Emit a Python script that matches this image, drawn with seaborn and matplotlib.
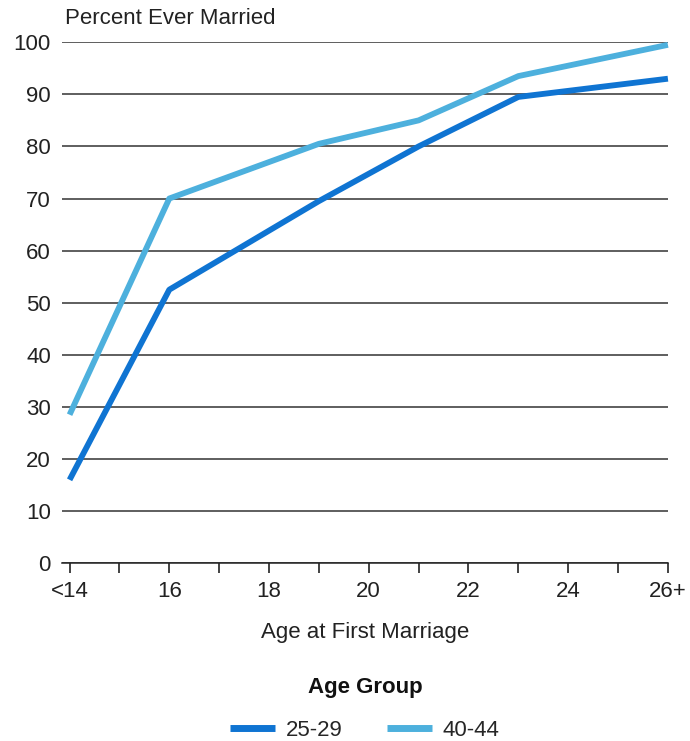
import matplotlib
matplotlib.use("Agg")
import matplotlib.pyplot as plt
import seaborn as sns
import pandas as pd

# values
ages = [14, 16, 19, 21, 23, 26]
tick_ages = [14, 16, 18, 20, 22, 24, 26]
tick_labels = ["<14", "16", "18", "20", "22", "24", "26+"]
pct_25_29 = [16, 52.5, 69.5, 80, 89.5, 93]
pct_40_44 = [28.5, 70, 80.5, 85, 93.5, 99.5]
groups = ["25-29", "40-44"]
colors = ["#0f74d2", "#4db0dd"]

df = pd.DataFrame({
    "age": ages * 2,
    "pct": pct_25_29 + pct_40_44,
    "group": [groups[0]] * len(ages) + [groups[1]] * len(ages),
})

sns.set_style("white")
plt.rcParams["font.family"] = ["Liberation Sans", "DejaVu Sans"]
fs = 16

fig = plt.figure(figsize=(6.9, 7.41), dpi=100)
ax = fig.add_axes([0.09, 0.24, 0.878, 0.703])

sns.lineplot(data=df, x="age", y="pct", hue="group", palette=colors,
             linewidth=4.2, ax=ax, legend=True)
for ln in ax.lines:
    ln.set_clip_on(False)
    ln.set_solid_capstyle("butt")

ax.set_xlim(13.85, 26)
ax.set_ylim(0, 100)
ax.set_yticks(range(0, 101, 10))
ax.tick_params(axis="y", left=False, length=0, labelsize=fs, pad=8, colors="#222222")
ax.set_xticks(tick_ages)
ax.set_xticklabels(tick_labels)
ax.set_xticks(range(15, 27, 2), minor=True)
ax.tick_params(axis="x", which="both", bottom=True, direction="out", length=7,
               width=1.2, color="#222222", labelsize=fs, pad=6, labelcolor="#222222")
ax.grid(axis="y", color="#333333", linewidth=1.1)
for s in ["top", "right", "left"]:
    ax.spines[s].set_visible(False)
ax.spines["bottom"].set_color("#222222")
ax.spines["bottom"].set_linewidth(1.1)
ax.set_axisbelow(True)

ax.set_ylabel("")
ax.set_xlabel("Age at First Marriage", fontsize=fs, labelpad=14, color="#222222")
ax.text(0.005, 1.025, "Percent Ever Married", transform=ax.transAxes,
        fontsize=fs, color="#222222", ha="left", va="bottom")

handles, labels = ax.get_legend_handles_labels()
leg = ax.legend(handles, labels, title="Age Group", loc="upper center",
                bbox_to_anchor=(0.5, -0.18), ncol=2, frameon=False,
                fontsize=fs, title_fontproperties={"weight": "bold", "size": fs},
                handlelength=2.0, columnspacing=2.0, handletextpad=0.5)
leg.get_title().set_color("#111111")
leg._legend_box.sep = 16
for h in leg.get_lines():
    h.set_linewidth(5)

fig.savefig("out.png", dpi=100)
